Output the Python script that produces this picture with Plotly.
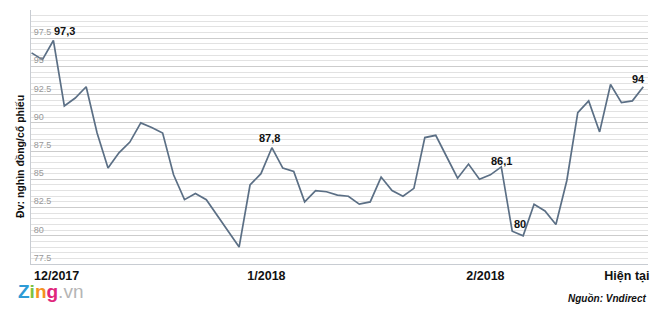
import plotly.graph_objects as go

# Price series (nghìn đồng/cổ phiếu), 57 evenly spaced observations
prices = [96.2, 95.6, 97.3, 91.5, 92.2, 93.2, 89.1, 86.0, 87.35, 88.3,
          90.0, 89.6, 89.1, 85.4, 83.2, 83.75, 83.2, 81.8, 80.4, 79.0,
          84.5, 85.5, 87.8, 86.0, 85.7, 83.0, 84.0, 83.9, 83.6, 83.5,
          82.8, 83.0, 85.2, 84.0, 83.5, 84.2, 88.7, 88.9, 87.0, 85.1,
          86.35, 85.0, 85.4, 86.1, 80.4, 80.0, 82.8, 82.2, 81.0, 84.9,
          90.9, 91.95, 89.2, 93.4, 91.8, 91.95, 93.2]
x_idx = list(range(len(prices)))

tick_pos = [2.3, 21.5, 41.55, 54.5]
tick_text = ["12/2017", "1/2018", "2/2018", "Hiện tại"]

label_idx = [2, 22, 43, 45, 56]
label_text = ["97,3", "87,8", "86,1", "80", "94"]
label_dx = [11, -2, 0, -3, -5]
label_dy = [9, 10, 6, 12, 8]

fig = go.Figure()
fig.add_trace(go.Scatter(
    x=x_idx, y=prices, mode="lines",
    line=dict(color="#5b6f85", width=1.7),
    hoverinfo="skip", showlegend=False,
))

for i, t, dx, dy in zip(label_idx, label_text, label_dx, label_dy):
    fig.add_annotation(
        x=x_idx[i], y=prices[i], text="<b>" + t + "</b>", showarrow=False,
        xshift=dx, yshift=dy,
        font=dict(family="Liberation Sans, Arial", size=11, color="#111"),
    )

fig.add_annotation(
    xref="paper", yref="paper", x=-0.018, y=0.425, textangle=-90,
    text="<b>Đv: nghìn đồng/cổ phiếu</b>", showarrow=False,
    xanchor="center", yanchor="middle",
    font=dict(family="Liberation Sans, Arial", size=10.5, color="#111"),
)

# Zing.vn logo (text)
fig.add_annotation(
    xref="paper", yref="paper", x=-0.025, y=-0.108, xanchor="left", yanchor="middle",
    text=("<b><span style='color:#2e9bd6'>Z</span><span style='color:#7cc242'>i</span>"
          "<span style='color:#f5921e'>n</span><span style='color:#e0267b'>g</span></b>"
          "<span style='color:#b5b5b5'>.vn</span>"),
    showarrow=False, font=dict(family="Liberation Sans, Arial", size=19),
)

fig.add_annotation(
    xref="paper", yref="paper", x=1.0, y=-0.136, xanchor="right", yanchor="middle",
    text="<b><i>Nguồn: Vndirect</i></b>", showarrow=False,
    font=dict(family="Liberation Sans, Arial", size=10, color="#111"),
)

fig.update_layout(
    width=660, height=313,
    margin=dict(l=31, r=12, t=10, b=49),
    paper_bgcolor="white", plot_bgcolor="white",
    xaxis=dict(
        range=[-0.05, 56.43], showgrid=False, zeroline=False,
        tickmode="array", tickvals=tick_pos, ticktext=["<b>" + s + "</b>" for s in tick_text],
        tickfont=dict(family="Liberation Sans, Arial", size=12.5, color="#111"),
        ticks="", showline=True, linecolor="#c8ccd2", linewidth=1,
    ),
    yaxis=dict(
        range=[77.5, 100], dtick=2.5, tick0=77.5,
        showgrid=True, gridcolor="#cccccc", gridwidth=1,
        minor=dict(dtick=0.5, tick0=77.5, showgrid=True, gridcolor="#e2e2e2", gridwidth=1),
        zeroline=False, ticks="",
        ticklabelposition="inside top", ticklabelstandoff=1,
        tickfont=dict(family="Liberation Sans, Arial", size=9, color="#999"),
        showline=True, linecolor="#c8ccd2", linewidth=1,
    ),
)

fig.write_html("out.html")
